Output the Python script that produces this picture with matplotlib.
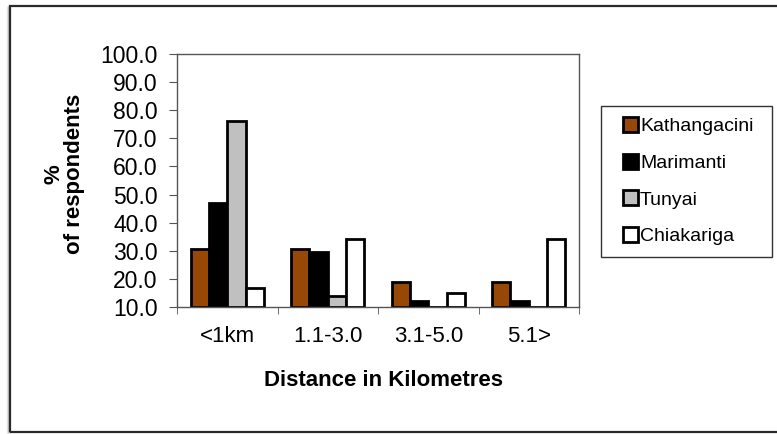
import numpy as np
import matplotlib.pyplot as plt
from matplotlib.patches import Rectangle
from matplotlib.container import BarContainer
from matplotlib.legend_handler import HandlerPatch

plt.rcParams['font.family'] = ['Liberation Sans', 'DejaVu Sans']

distance = ['<1km', '1.1-3.0', '3.1-5.0', '5.1>']
sites = ['Kathangacini', 'Marimanti', 'Tunyai', 'Chiakariga']
kathangacini = [30.8, 30.8, 19.0, 19.0]
marimanti = [47.1, 29.5, 12.3, 12.3]
tunyai = [76.3, 13.9, 0.0, 0.0]
chiakariga = [16.9, 34.2, 15.1, 34.2]
colors = ['#974706', '#000000', '#c0c0c0', '#ffffff']

W, H = 777, 434
fig = plt.figure(figsize=(W / 100, H / 100), dpi=100)

# outer chart frame with a soft shadow on the left
for i, c in enumerate(['#e6e6e6', '#c8c8c8', '#a0a0a0']):
    fig.add_artist(Rectangle(((7 + i) / W, 1 / H), 0.0, (H - 7) / H,
                             transform=fig.transFigure, fill=False,
                             edgecolor=c, lw=1.0))
fig.add_artist(Rectangle((10 / W, 2 / H), 1.2, (H - 8) / H,
                         transform=fig.transFigure, fill=False,
                         edgecolor='#2a2a2a', lw=1.6))

ax = fig.add_axes([177 / W, 1 - 307 / H, 402 / W, 253 / H])

x = np.arange(len(distance))
w = 0.1825
ymin = 10.0
series = [kathangacini, marimanti, tunyai, chiakariga]
for i, (name, vals, col) in enumerate(zip(sites, series, colors)):
    vals = np.asarray(vals)
    # bars start at the axis floor, like a spreadsheet column chart
    ax.bar(x + (i - 1.5) * w, vals - ymin, width=w, bottom=ymin,
           color=col, edgecolor='black', linewidth=2.0, label=name)

ax.set_xlim(-0.5, 3.5)
ax.set_ylim(10, 100)
ax.set_yticks(np.arange(10, 101, 10))
ax.set_yticklabels([f'{v:.1f}' for v in np.arange(10, 101, 10)], fontsize=16.5)
ax.set_xticks(x)
ax.set_xticklabels(distance, fontsize=16)
ax.set_xticks(np.arange(-0.5, 4, 1), minor=True)
ax.tick_params(axis='x', which='major', length=0, pad=14)
ax.tick_params(axis='x', which='minor', length=5, direction='out', color='#555555')
ax.tick_params(axis='y', length=6, direction='out', color='#555555', pad=8)
for s in ax.spines.values():
    s.set_color('#555555')
    s.set_linewidth(1.0)

fig.text(383 / W, 1 - 381 / H, 'Distance in Kilometres', fontsize=16,
         fontweight='bold', ha='center', va='center')
fig.text(64 / W, 1 - 174 / H, '%\nof respondents', fontsize=16,
         fontweight='bold', rotation=90, ha='center', va='center',
         multialignment='center', linespacing=1.0)


def square(legend, orig_handle, xdescent, ydescent, width, height, fontsize):
    s = 11
    return Rectangle((width - s - xdescent, (height - s) / 2 - ydescent), s, s)


def copy_bar_style(legend_handle, orig_handle):
    legend_handle.update_from(orig_handle.patches[0])
    legend_handle.set_linewidth(2.0)


leg = ax.legend(loc='upper left', mode='expand', borderaxespad=0,
                bbox_to_anchor=(601 / W, 1 - 255 / H, 171 / W, 149 / H),
                bbox_transform=fig.transFigure, fontsize=14,
                frameon=True, fancybox=False, edgecolor='black',
                handlelength=1.3, handleheight=0.7, handletextpad=0.1,
                borderpad=0.6, labelspacing=0.98,
                handler_map={BarContainer: HandlerPatch(patch_func=square,
                                                        update_func=copy_bar_style)})
leg.get_frame().set_linewidth(1.0)

fig.savefig('out.png', dpi=100)
